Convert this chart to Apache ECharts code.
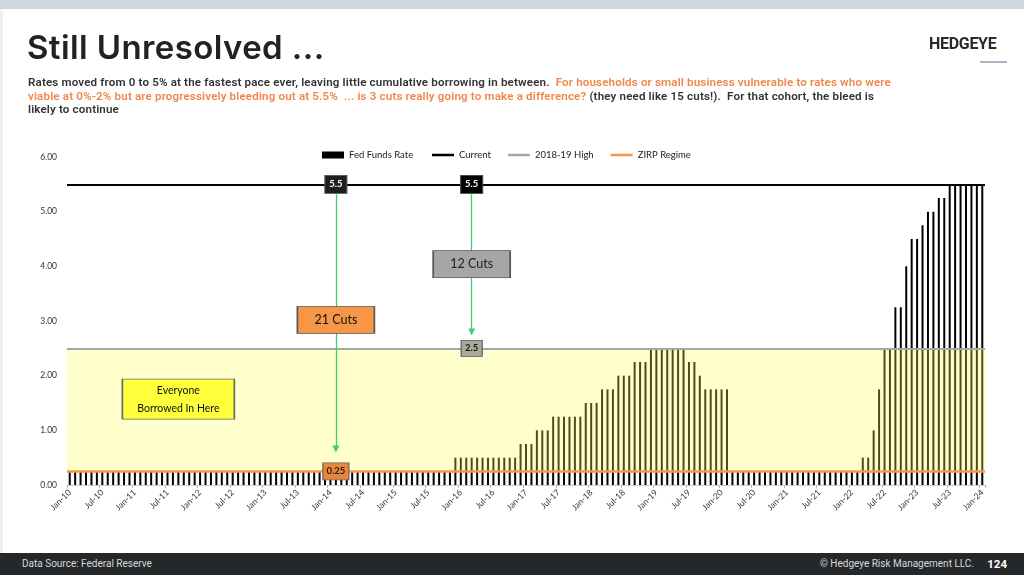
<!DOCTYPE html>
<html>
<head>
<meta charset="utf-8">
<title>Still Unresolved</title>
<script src="https://cdn.jsdelivr.net/npm/echarts@6/dist/echarts.min.js"></script>
<style>
  html, body { margin: 0; padding: 0; background: #fff; }
  #page { position: relative; width: 1024px; height: 575px; overflow: hidden; background: #fff; }
  #topbar { position: absolute; left: 0; top: 0; width: 1024px; height: 9px; background: #cdd7df; }
  #edge { position: absolute; left: 0; top: 9px; width: 3px; height: 544px; background: #eef0f2; }
  #title { position: absolute; left: 27px; top: 27px; font-family: Inter, Roboto, sans-serif; font-size: 33px; font-weight: 600; color: #222; letter-spacing: 0.4px; }
  #logo { position: absolute; left: 929px; top: 34px; font-family: Roboto, sans-serif; font-size: 16px; font-weight: 700; color: #2a2a2a; letter-spacing: -0.3px; }
  #logoline { position: absolute; left: 980px; top: 61px; width: 27px; height: 2px; background: #aab4c6; }
  #sub { position: absolute; left: 28px; top: 76px; width: 960px; font-family: Roboto, sans-serif; font-size: 11.6px; font-weight: 600; line-height: 13.6px; color: #333; letter-spacing: 0.15px; }
  #sub .o { color: #f0874a; }
  #chart { position: absolute; left: 0; top: 0; width: 1024px; height: 575px; }
  #footer { position: absolute; left: 0; top: 553px; width: 1024px; height: 22px; background: #25282b; font-family: Roboto, sans-serif; color: #d8d8d8; font-size: 10px; }
  #src { position: absolute; left: 22px; top: 5px; }
  #copy { position: absolute; right: 50px; top: 5px; }
  #pg { position: absolute; right: 17px; top: 4px; font-weight: 700; font-size: 11.5px; color: #fff; }
</style>
</head>
<body>
<div id="page">
  <div id="topbar"></div>
  <div id="edge"></div>
  <div id="chart"></div>
  <div id="title">Still Unresolved ...</div>
  <div id="logo">HEDGEYE</div>
  <div id="logoline"></div>
  <div id="sub">Rates moved from 0 to 5% at the fastest pace ever, leaving little cumulative borrowing in between.&nbsp; <span class="o">For households or small business vulnerable to rates who were<br>viable at 0%-2% but are progressively bleeding out at 5.5%&nbsp; ... is 3 cuts really going to make a difference?</span> (they need like 15 cuts!).&nbsp; For that cohort, the bleed is<br>likely to continue</div>
  <div id="footer">
    <span id="src">Data Source: Federal Reserve</span>
    <span id="copy">© Hedgeye Risk Management LLC.</span>
    <span id="pg">124</span>
  </div>
</div>
<script>
// month labels Jan-10 .. Jan-24
var monthNames = ['Jan', 'Feb', 'Mar', 'Apr', 'May', 'Jun', 'Jul', 'Aug', 'Sep', 'Oct', 'Nov', 'Dec'];
var months = [];
for (var y = 10; y <= 24; y++) {
    for (var m = 0; m < 12; m++) {
        if (y == 24 && m > 0) break;
        months.push(monthNames[m] + '-' + y);
    }
}

// fed funds rate, monthly, one row per year
var fedFunds = [
    0.25, 0.25, 0.25, 0.25, 0.25, 0.25, 0.25, 0.25, 0.25, 0.25, 0.25, 0.25, // 2010
    0.25, 0.25, 0.25, 0.25, 0.25, 0.25, 0.25, 0.25, 0.25, 0.25, 0.25, 0.25, // 2011
    0.25, 0.25, 0.25, 0.25, 0.25, 0.25, 0.25, 0.25, 0.25, 0.25, 0.25, 0.25, // 2012
    0.25, 0.25, 0.25, 0.25, 0.25, 0.25, 0.25, 0.25, 0.25, 0.25, 0.25, 0.25, // 2013
    0.25, 0.25, 0.25, 0.25, 0.25, 0.25, 0.25, 0.25, 0.25, 0.25, 0.25, 0.25, // 2014
    0.25, 0.25, 0.25, 0.25, 0.25, 0.25, 0.25, 0.25, 0.25, 0.25, 0.25, 0.5,  // 2015
    0.5, 0.5, 0.5, 0.5, 0.5, 0.5, 0.5, 0.5, 0.5, 0.5, 0.5, 0.75,            // 2016
    0.75, 0.75, 1.0, 1.0, 1.0, 1.25, 1.25, 1.25, 1.25, 1.25, 1.25, 1.5,     // 2017
    1.5, 1.5, 1.75, 1.75, 1.75, 2.0, 2.0, 2.0, 2.25, 2.25, 2.25, 2.5,       // 2018
    2.5, 2.5, 2.5, 2.5, 2.5, 2.5, 2.25, 2.25, 2.0, 1.75, 1.75, 1.75,        // 2019
    1.75, 1.75, 0.25, 0.25, 0.25, 0.25, 0.25, 0.25, 0.25, 0.25, 0.25, 0.25, // 2020
    0.25, 0.25, 0.25, 0.25, 0.25, 0.25, 0.25, 0.25, 0.25, 0.25, 0.25, 0.25, // 2021
    0.25, 0.25, 0.5, 0.5, 1.0, 1.75, 2.5, 2.5, 3.25, 3.25, 4.0, 4.5,        // 2022
    4.5, 4.75, 5.0, 5.0, 5.25, 5.25, 5.5, 5.5, 5.5, 5.5, 5.5, 5.5,          // 2023
    5.5                                                                      // 2024
];

var currentRate = 5.5;
var high1819 = 2.5;
var zirpRate = 0.25;
var yTicks = [0, 1, 2, 3, 4, 5, 6];

// annotation anchors (category index)
var cut21At = 49;
var cut12At = 74;

var font = 'Lato, "Open Sans", sans-serif';
var myChart = echarts.init(document.getElementById('chart'));

var legendText = { fontSize: 9.5, color: '#222', fontFamily: font };

var option = {
    animation: false,
    textStyle: { fontFamily: font },
    grid: { left: 67, right: 39, top: 157, bottom: 90 },
    legend: [
        {
            left: 317, top: 145,
            itemWidth: 22, itemHeight: 7,
            textStyle: legendText,
            data: [{ name: 'Fed Funds Rate', icon: 'rect' }]
        },
        {
            left: 427, top: 145,
            itemWidth: 22, itemHeight: 2.5,
            itemGap: 17,
            icon: 'rect',
            textStyle: legendText,
            data: ['Current', '2018-19 High', 'ZIRP Regime']
        }
    ],
    xAxis: {
        type: 'category',
        data: months,
        axisLine: { show: true, lineStyle: { color: '#ccc' } },
        axisTick: { show: true, interval: 5, length: 3, lineStyle: { color: '#bbb' } },
        axisLabel: { interval: 5, rotate: 45, fontSize: 8.5, color: '#333', margin: 6 }
    },
    yAxis: {
        type: 'value',
        min: yTicks[0],
        max: yTicks[yTicks.length - 1],
        interval: 1,
        splitLine: { show: false },
        axisLine: { show: false },
        axisTick: { show: false },
        axisLabel: {
            fontSize: 8.5, color: '#333', margin: 10,
            formatter: function(v) { return v.toFixed(2); }
        }
    },
    series: [
        {
            name: 'Fed Funds Rate',
            type: 'bar',
            data: fedFunds,
            barWidth: 2,
            itemStyle: { color: '#000' },
            z: 2
        },
        {
            // yellow "borrowing" band, drawn over the bars
            name: 'band',
            type: 'line',
            data: [],
            z: 3,
            silent: true,
            markArea: {
                z: 3,
                silent: true,
                itemStyle: { color: 'rgba(255,255,85,0.3)' },
                data: [[{ yAxis: zirpRate }, { yAxis: high1819 }]]
            }
        },
        {
            name: 'Current',
            type: 'line',
            data: [],
            symbol: 'none',
            z: 4,
            itemStyle: { color: '#000' },
            lineStyle: { color: '#000', width: 2 },
            markLine: {
                silent: true, symbol: 'none', label: { show: false },
                lineStyle: { color: '#000', width: 2, type: 'solid' },
                data: [{ yAxis: currentRate }]
            }
        },
        {
            name: '2018-19 High',
            type: 'line',
            data: [],
            symbol: 'none',
            z: 4,
            itemStyle: { color: '#a6a6a6' },
            lineStyle: { color: '#a6a6a6', width: 2 },
            markLine: {
                silent: true, symbol: 'none', label: { show: false },
                lineStyle: { color: '#a6a6a6', width: 2, type: 'solid' },
                data: [{ yAxis: high1819 }]
            }
        },
        {
            name: 'ZIRP Regime',
            type: 'line',
            data: [],
            symbol: 'none',
            z: 4,
            itemStyle: { color: '#f79646' },
            lineStyle: { color: '#f79646', width: 2 },
            markLine: {
                silent: true, symbol: 'none', label: { show: false },
                lineStyle: { color: '#f79646', width: 2.5, type: 'solid' },
                data: [{ yAxis: zirpRate }]
            }
        },
        {
            name: 'notes',
            type: 'line',
            data: [],
            z: 6,
            markLine: {
                silent: true,
                symbol: ['none', 'triangle'],
                symbolSize: [7, 7],
                label: { show: false },
                lineStyle: { color: '#3ecf74', width: 1.3, type: 'solid' },
                data: [
                    [{ coord: [cut21At, 5.32] }, { coord: [cut21At, 0.66] }],
                    [{ coord: [cut12At, 5.32] }, { coord: [cut12At, 2.8] }]
                ]
            },
            markPoint: {
                silent: true,
                symbol: 'rect',
                label: { show: true, position: 'inside', fontFamily: font },
                data: [
                    {
                        coord: [cut21At, currentRate], symbolSize: [22, 18],
                        itemStyle: { color: '#1f1f1f', borderColor: '#555', borderWidth: 1 },
                        label: { formatter: '5.5', color: '#fff', fontWeight: 'bold', fontSize: 9.5 }
                    },
                    {
                        coord: [cut12At, currentRate], symbolSize: [22, 18],
                        itemStyle: { color: '#000', borderColor: '#444', borderWidth: 1 },
                        label: { formatter: '5.5', color: '#fff', fontWeight: 'bold', fontSize: 9.5 }
                    },
                    {
                        coord: [cut21At, zirpRate], symbolSize: [26, 17],
                        itemStyle: { color: '#e8873a', borderColor: '#666', borderWidth: 1 },
                        label: { formatter: '0.25', color: '#222', fontWeight: 'bold', fontSize: 9.5 }
                    },
                    {
                        coord: [cut12At, high1819], symbolSize: [21, 16],
                        itemStyle: { color: '#a9a99b', borderColor: '#555', borderWidth: 1 },
                        label: { formatter: '2.5', color: '#111', fontWeight: 'bold', fontSize: 9.5 }
                    },
                    {
                        coord: [cut21At, 3.02], symbolSize: [77, 27],
                        itemStyle: { color: '#f79646', borderColor: '#555', borderWidth: 1 },
                        label: { formatter: '21 Cuts', color: '#111', fontSize: 12.5 }
                    },
                    {
                        coord: [cut12At, 4.04], symbolSize: [77, 27],
                        itemStyle: { color: '#a6a6a6', borderColor: '#555', borderWidth: 1 },
                        label: { formatter: '12 Cuts', color: '#222', fontSize: 12.5 }
                    },
                    {
                        coord: [20, 1.57], symbolSize: [112, 40],
                        itemStyle: { color: '#ffff3c', borderColor: '#666', borderWidth: 1 },
                        label: { formatter: 'Everyone\nBorrowed In Here', color: '#111', fontSize: 10.5, lineHeight: 18 }
                    }
                ]
            }
        }
    ]
};

myChart.setOption(option);
</script>
</body>
</html>
